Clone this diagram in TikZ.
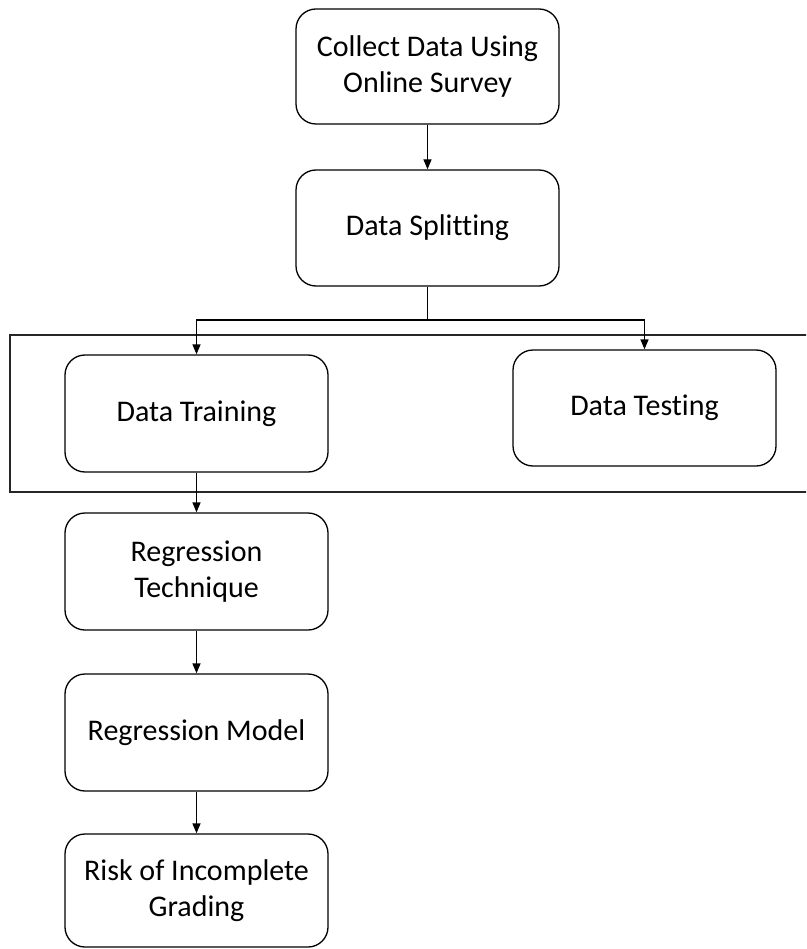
\documentclass[tikz,border=0pt]{standalone}
\usepackage{fontspec}
\setmainfont[Ligatures=NoCommon]{Carlito}
\usetikzlibrary{arrows.meta}
\begin{document}
\begin{tikzpicture}[x=1pt,y=-1pt,
  stepbox/.style={draw=black,line width=1.3pt,rounded corners=20pt,
    minimum width=263pt,align=center,inner sep=0pt,
    font=\fontsize{30}{35.5}\selectfont},
  conn/.style={draw=black,line width=1.3pt},
  arr/.style={conn,-{Triangle[length=10pt,width=8pt]}},
  frame/.style={draw=black!85,line width=2pt}]
\useasboundingbox (0,0) rectangle (806,949);
\clip (0,0) rectangle (806,949);
\fill[white] (0,0) rectangle (806,949);
\draw[frame] (10,335) rectangle (830,492);
\node[stepbox,minimum height=115pt] (collect) at (427.5,66.5) {Collect Data Using\\Online Survey};
\node[stepbox,minimum height=116pt] (split) at (427.5,228) {Data Splitting};
\node[stepbox,minimum height=117pt] (train) at (196.5,413.5) {Data Training};
\node[stepbox,minimum height=116pt] (test) at (644.5,408) {Data Testing};
\node[stepbox,minimum height=117pt] (tech) at (196.5,571.5) {Regression\\Technique};
\node[stepbox,minimum height=117pt] (model) at (196.5,732.5) {Regression Model};
\node[stepbox,minimum height=113pt] (risk) at (196.5,890.5) {Risk of Incomplete\\Grading};
\coordinate (fork) at (427.5,320);
\draw[arr] (collect) -- (split);
\draw[conn] (split) -- (fork);
\draw[arr] (fork) -| (train.north);
\draw[arr] (fork) -| (test.north);
\draw[arr] (train) -- (tech);
\draw[arr] (tech) -- (model);
\draw[arr] (model) -- (risk);
\end{tikzpicture}
\end{document}
